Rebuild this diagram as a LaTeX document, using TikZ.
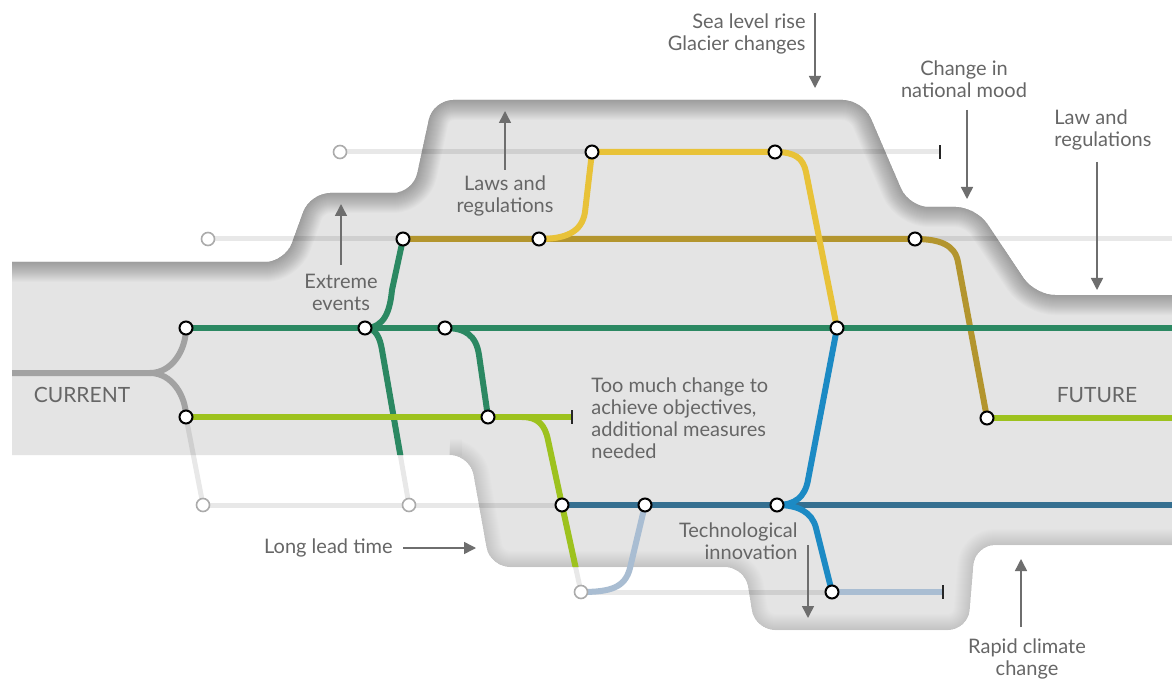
\documentclass[tikz,border=0pt]{standalone}
\usepackage{fontspec}
\setmainfont{Lato}
\usetikzlibrary{arrows.meta}
\definecolor{regionc}{HTML}{E4E4E4}
\definecolor{dgreen}{HTML}{2B8862}
\definecolor{limec}{HTML}{9DC21E}
\definecolor{olivec}{HTML}{B3952E}
\definecolor{yell}{HTML}{E8C238}
\definecolor{bblue}{HTML}{1C8AC4}
\definecolor{steel}{HTML}{356F90}
\definecolor{lblue}{HTML}{A9BDD2}
\definecolor{forkc}{HTML}{A2A2A2}
\definecolor{ghostc}{HTML}{ABABAB}
\definecolor{textc}{HTML}{666666}
\definecolor{arrc}{HTML}{6E6E6E}
\begin{document}
\begin{tikzpicture}[x=0.5pt,y=-0.5pt,
  stn/.style={circle,draw=black,fill=white,line width=1pt,minimum size=6.5pt,inner sep=0pt},
  gstn/.style={circle,draw=ghostc,fill=white,line width=0.8pt,minimum size=6.5pt,inner sep=0pt},
  barnode/.style={rectangle,fill=black!85,minimum width=1.2pt,minimum height=7pt,inner sep=0pt},
  track/.style={line width=2.5pt,draw=black,draw opacity=0.09},
  rail/.style={line width=3pt},
  lbl/.style={text=textc,font=\fontsize{10}{11}\selectfont,inner sep=0pt},
  biglbl/.style={text=textc,font=\fontsize{10.5}{12}\selectfont,inner sep=0pt},
  arr/.style={draw=arrc,line width=0.75pt,-{Triangle[width=6pt,length=6pt]}},
  shadt/.style={draw=black,draw opacity=0.015,rounded corners=10pt},
  shadb/.style={draw=black,draw opacity=0.009,rounded corners=10pt}
]
\useasboundingbox (0,0) rectangle (1172,679);
\fill[white] (0,0) rectangle (1172,679);

\coordinate (cur) at (12,373);
\coordinate (fork) at (150,373);
\coordinate (eB) at (1172,239);
\coordinate (eC) at (1172,328);
\coordinate (eD) at (1172,418);
\coordinate (eE) at (1172,505);
\coordinate (jD) at (522,417);

\begin{scope}
\clip (12,0) rectangle (1172,679);
% region with inner shadow
\begin{scope}
\clip[rounded corners=10pt] (-40,262) -- (285,262) -- (310,193) -- (413,193) -- (433,100) -- (863,100) -- (909,207) -- (976,207) -- (1035,295) -- (1220,295) -- (1220,545) -- (975,545) -- (968,630) -- (755,630) -- (745,567) -- (490,567) -- (470,455) -- (-40,455) -- cycle;
\fill[regionc] (-50,0) rectangle (1250,700);
\foreach \w in {1,2,...,20}{
  \draw[shadt,line width=\w pt] (-40,262) -- (285,262) -- (310,193) -- (413,193) -- (433,100) -- (863,100) -- (909,207) -- (976,207) -- (1035,295) -- (1220,295);
}
\foreach \w in {1,2,...,16}{
  \draw[shadb,line width=\w pt] (462,455) -- (470,455) -- (490,567) -- (745,567) -- (755,630) -- (968,630) -- (975,545) -- (1220,545);
}
\end{scope}

% ---------- station positions ----------
\path
  (592,152) coordinate (sA1)
  (775,152) coordinate (sA2)
  (403,239) coordinate (sB1)
  (539,239) coordinate (sB2)
  (915,239) coordinate (sB3)
  (186,328) coordinate (sC1)
  (365,328) coordinate (sC2)
  (445,328) coordinate (sC3)
  (837,328) coordinate (sC4)
  (186,417) coordinate (sD1)
  (488,417) coordinate (sD2)
  (987,418) coordinate (sD3)
  (562,505) coordinate (sE1)
  (645,505) coordinate (sE2)
  (777,505) coordinate (sE3)
  (832,592) coordinate (sF1)
  (340,152) coordinate (gA)
  (208,239) coordinate (gB)
  (203,505) coordinate (gE1)
  (409,505) coordinate (gE2)
  (581,592) coordinate (gF)
  (940,152) coordinate (barA)
  (572,417) coordinate (barD)
  (943,592) coordinate (barF);

% ---------- ghost tracks ----------
\draw[track] (gA) -- (barA);
\draw[track] (gB) -- (eB);
\draw[track] (gE1) -- (sE1);
\draw[track] (gF) -- (sF1);
\draw[track] (sD1) -- (gE1);
\draw[track] (sC2) .. controls (376,328) and (380,338) .. (382,350) -- (gE2);
\draw[track] (jD) .. controls (538,417) and (545,425) .. (548,440) -- (sE1) -- (gF);

% ---------- coloured lines (inside region) ----------
\begin{scope}
\clip[rounded corners=10pt] (-40,262) -- (285,262) -- (310,193) -- (413,193) -- (433,100) -- (863,100) -- (909,207) -- (976,207) -- (1035,295) -- (1220,295) -- (1220,545) -- (975,545) -- (968,630) -- (755,630) -- (745,567) -- (490,567) -- (470,455) -- (-40,455) -- cycle;
\draw[forkc,rail] (cur) -- (fork) .. controls (172,373) and (186,350) .. (sC1);
\draw[forkc,rail] (fork) .. controls (172,373) and (186,396) .. (sD1);
\draw[olivec,rail] (sB1) -- (sB3) .. controls (940,239) and (955,245) .. (958,262) -- (sD3);
\draw[yell,rail] (sB2) .. controls (566,239) and (582,232) .. (585,212) -- (sA1) -- (sA2) .. controls (795,152) and (803,158) .. (806,172) -- (sC4);
\draw[dgreen,rail] (sC2) .. controls (376,328) and (380,338) .. (382,350) -- (gE2);
\draw[dgreen,rail] (sC2) .. controls (385,328) and (390,310) .. (392,290) -- (sB1);
\draw[dgreen,rail] (sC3) .. controls (465,328) and (476,335) .. (479,355) -- (sD2);
\draw[dgreen,rail] (sC1) -- (eC);
\draw[limec,rail] (sD1) -- (barD);
\draw[limec,rail] (jD) .. controls (538,417) and (545,425) .. (548,440) -- (sE1) -- (gF);
\draw[limec,rail] (sD3) -- (eD);
\draw[steel,rail] (sE1) -- (eE);
\draw[bblue,rail] (sE3) .. controls (795,505) and (805,497) .. (808,480) -- (sC4);
\draw[bblue,rail] (sE3) .. controls (798,505) and (812,512) .. (816,528) -- (sF1);
\draw[lblue,rail] (sF1) -- (barF);
\end{scope}
\draw[lblue,rail] (gF) .. controls (610,592) and (625,588) .. (630,568) -- (sE2);
\end{scope}

% ---------- bars ----------
\node[barnode] (nbarA) at (barA) {};
\node[barnode] (nbarD) at (barD) {};
\node[barnode] (nbarF) at (barF) {};

% ---------- stations ----------
\foreach \n in {sA1,sA2,sB1,sB2,sB3,sC1,sC2,sC3,sC4,sD1,sD2,sD3,sE1,sE2,sE3,sF1}{
  \node[stn] (n\n) at (\n) {};
}
\foreach \n in {gA,gB,gE1,gE2,gF}{
  \node[gstn] (n\n) at (\n) {};
}

% ---------- labels ----------
\node[lbl,anchor=east,align=right] (sea) at (806,34) {Sea level rise\\Glacier changes};
\node[lbl,align=center] (mood) at (964,79) {Change in\\national mood};
\node[lbl,anchor=west,align=left] (law) at (1054,130) {Law and\\regulations};
\node[lbl,align=center] (laws) at (505,196) {Laws and\\regulations};
\node[lbl,align=center] (extreme) at (341,292) {Extreme\\events};
\node[biglbl] (current) at (82,395) {CURRENT};
\node[biglbl] (future) at (1097,395) {FUTURE};
\node[lbl,anchor=west,align=left] (toomuch) at (591,418) {Too much change to\\achieve objectives,\\additional measures\\needed};
\node[lbl,anchor=east,align=right] (tech) at (798,541) {Technological\\innovation};
\node[lbl,anchor=east] (lead) at (393,548) {Long lead time};
\node[lbl,align=center] (rapid) at (1027,659) {Rapid climate\\change};

% ---------- arrows ----------
\coordinate (a1s) at (815,13);   \coordinate (a1e) at (815,88);
\coordinate (a2s) at (967,110);  \coordinate (a2e) at (967,199);
\coordinate (a3s) at (1097,162); \coordinate (a3e) at (1097,290);
\coordinate (a4s) at (505,170);  \coordinate (a4e) at (505,111);
\coordinate (a5s) at (341,265);  \coordinate (a5e) at (341,204);
\coordinate (a6s) at (808,545);  \coordinate (a6e) at (808,618);
\coordinate (a7s) at (403,548);  \coordinate (a7e) at (476,548);
\coordinate (a8s) at (1021,627); \coordinate (a8e) at (1021,559);
\draw[arr] (a1s) -- (a1e);
\draw[arr] (a2s) -- (a2e);
\draw[arr] (a3s) -- (a3e);
\draw[arr] (a4s) -- (a4e);
\draw[arr] (a5s) -- (a5e);
\draw[arr] (a6s) -- (a6e);
\draw[arr] (a7s) -- (a7e);
\draw[arr] (a8s) -- (a8e);
\end{tikzpicture}
\end{document}
